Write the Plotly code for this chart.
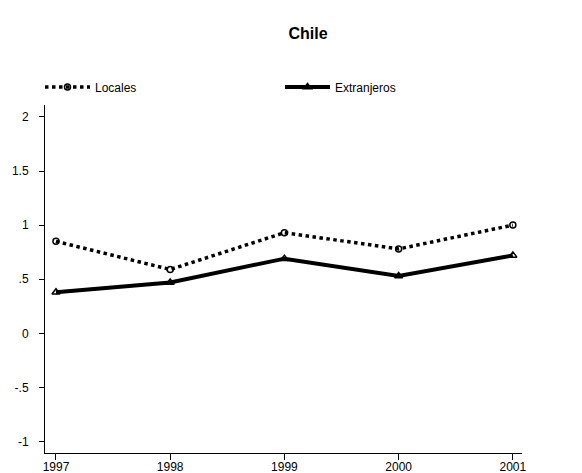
import plotly.graph_objects as go

years = [1997, 1998, 1999, 2000, 2001]
locales = [0.85, 0.59, 0.93, 0.78, 1.00]
extranjeros = [0.38, 0.47, 0.69, 0.53, 0.72]
ytick_vals = [-1, -0.5, 0, 0.5, 1, 1.5, 2]
ytick_text = ["-1", "-.5", "0", ".5", "1", "1.5", "2"]

fig = go.Figure()
fig.add_trace(go.Scatter(
    x=years, y=locales, name="Locales", mode="lines+markers",
    line=dict(color="black", width=3.5, dash="dot"),
    marker=dict(symbol="circle-open", size=6, color="black", line=dict(width=1.5, color="black")),
))
fig.add_trace(go.Scatter(
    x=years, y=extranjeros, name="Extranjeros", mode="lines+markers",
    line=dict(color="black", width=4),
    marker=dict(symbol="triangle-up-open", size=7, color="black", line=dict(width=1.5, color="black")),
))

fig.update_layout(
    width=582, height=473,
    margin=dict(l=45, r=60, t=105, b=20),
    paper_bgcolor="white", plot_bgcolor="white",
    font=dict(family="Liberation Sans, Arial, sans-serif", size=12, color="black"),
    title=dict(text="<b>Chile</b>", x=308/582, xanchor="center", y=1-33/473, yanchor="middle",
               font=dict(size=16, color="black")),
    showlegend=True,
    legend=dict(orientation="h", xref="container", yref="container",
                x=40/582, xanchor="left", y=1-87/473, yanchor="middle",
                entrywidth=180, entrywidthmode="pixels", font=dict(size=12),
                bgcolor="rgba(0,0,0,0)", itemwidth=45),
    xaxis=dict(range=[1996.904, 2001.08], tickvals=years, ticktext=[str(y) for y in years],
               showline=True, linecolor="black", linewidth=1, ticks="outside", ticklen=6,
               tickcolor="black", showgrid=False, zeroline=False, automargin=False,
               ticklabelstandoff=-3),
    yaxis=dict(range=[-1.106, 2.11], tickvals=ytick_vals, ticktext=ytick_text,
               showline=True, linecolor="black", linewidth=1, ticks="outside", ticklen=5,
               tickcolor="black", showgrid=False, zeroline=False, ticklabelstandoff=8,
               automargin=False),
)

fig.write_html("out.html", config={"displayModeBar": False},
               post_script="document.body.style.margin='0';document.body.style.overflow='hidden';")
